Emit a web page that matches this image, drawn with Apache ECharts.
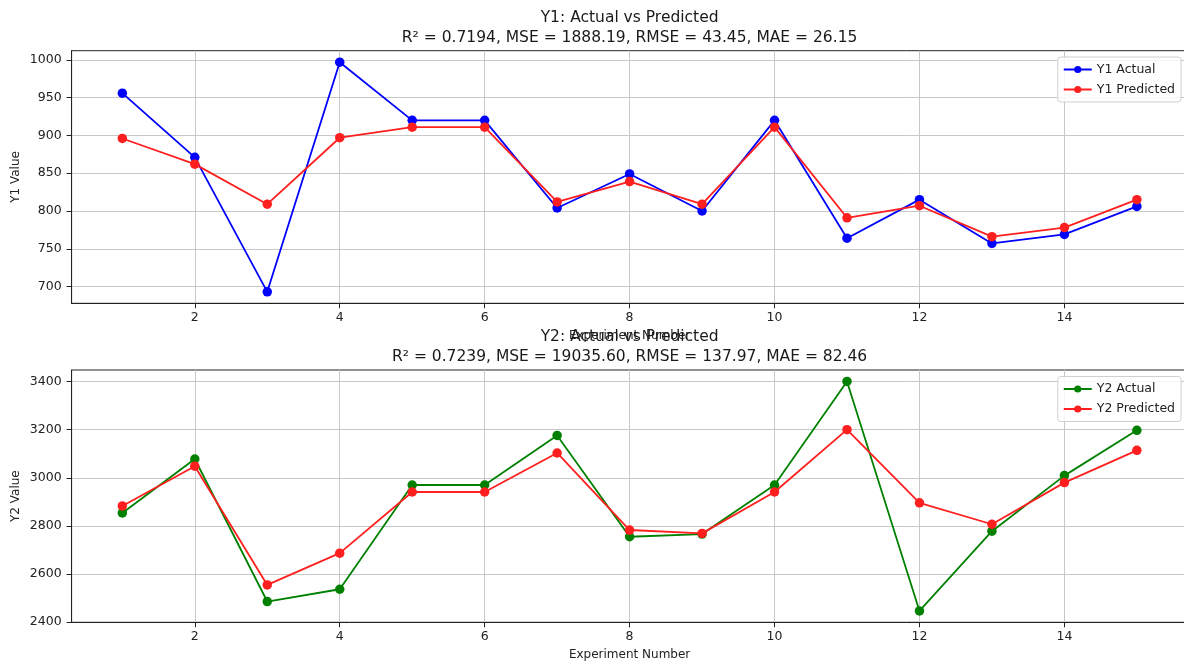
<!DOCTYPE html>
<html>
<head>
<meta charset="utf-8">
<script src="https://cdn.jsdelivr.net/npm/echarts@6/dist/echarts.min.js"></script>
<style>
html,body{margin:0;padding:0;background:#fff;}
#chart{width:1184px;height:664px;}
</style>
</head>
<body>
<div id="chart"></div>
<script>
const experiments = [1,2,3,4,5,6,7,8,9,10,11,12,13,14,15];
const y1Actual    = [956,871,693,997,920,920,804,849,800,920,764,815,757,769,806];
const y1Predicted = [896,862,809,897,911,911,812,839,809,911,791,807,766,778,815];
const y2Actual    = [2854,3078,2486,2537,2970,2970,3176,2755,2766,2970,3400,2447,2778,3009,3197];
const y2Predicted = [2883,3048,2555,2687,2941,2941,3103,2783,2769,2941,3200,2896,2807,2980,3114];
const xTicks  = [2,4,6,8,10,12,14];
const y1Ticks = [700,750,800,850,900,950,1000];
const y2Ticks = [2400,2600,2800,3000,3200,3400];
const title1 = 'Y1: Actual vs Predicted\nR\u00B2 = 0.7194, MSE = 1888.19, RMSE = 43.45, MAE = 26.15';
const title2 = 'Y2: Actual vs Predicted\nR\u00B2 = 0.7239, MSE = 19035.60, RMSE = 137.97, MAE = 82.46';

const FONT = 'DejaVu Sans';
const pair = (xs, ys) => xs.map((x, i) => [x, ys[i]]);
const plain = v => String(v);

function xAxisCfg(gridIndex) {
  return {
    type: 'value', gridIndex, min: 0.3, max: 15.7,
    minInterval: 2, maxInterval: 2,
    name: 'Experiment Number', nameLocation: 'middle', nameGap: 27, nameMoveOverlap: false,
    nameTextStyle: { fontFamily: FONT, fontSize: 12, color: '#222' },
    axisLine: { show: true, onZero: false, lineStyle: { color: '#222', width: 1 } },
    axisTick: { show: true, inside: false, length: 5, customValues: xTicks, lineStyle: { color: '#222' } },
    axisLabel: { customValues: xTicks, formatter: plain, margin: 8, fontFamily: FONT, fontSize: 12.5, color: '#222' },
    splitLine: { show: true, lineStyle: { color: '#c8c8c8', width: 1 } }
  };
}
function yAxisCfg(gridIndex, min, max, step, ticks, name) {
  return {
    type: 'value', gridIndex, min, max, minInterval: step, maxInterval: step,
    name, nameLocation: 'middle', nameGap: 50, nameMoveOverlap: false,
    nameTextStyle: { fontFamily: FONT, fontSize: 12, color: '#222' },
    axisLine: { show: true, onZero: false, lineStyle: { color: '#222', width: 1 } },
    axisTick: { show: true, inside: false, length: 5, customValues: ticks, lineStyle: { color: '#222' } },
    axisLabel: { customValues: ticks, formatter: plain, margin: 10, fontFamily: FONT, fontSize: 12.5, color: '#222' },
    splitLine: { show: true, lineStyle: { color: '#c8c8c8', width: 1 } }
  };
}
function lineSeries(name, data, color, xi) {
  return {
    type: 'line', name, data, xAxisIndex: xi, yAxisIndex: xi,
    symbol: 'circle', symbolSize: 9.5, showSymbol: true,
    lineStyle: { color, width: 1.8 },
    itemStyle: { color },
    emphasis: { disabled: true },
    animation: false, z: 3
  };
}
function legendCfg(top, names) {
  return {
    data: names, orient: 'vertical', right: 3, top,
    itemWidth: 28, itemHeight: 9, itemGap: 7,
    padding: [6, 6, 6, 5],
    backgroundColor: 'rgba(255,255,255,0.85)', borderColor: '#d0d0d0', borderWidth: 1, borderRadius: 3,
    textStyle: { fontFamily: FONT, fontSize: 12.5, color: '#222' }
  };
}
function gridCfg(top, height) {
  return { left: 71.6, top, width: 1116, height, containLabel: false, outerBoundsMode: 'none',
    show: true, borderColor: '#222', borderWidth: 1, backgroundColor: 'transparent' };
}

const chart = echarts.init(document.getElementById('chart'), null, { renderer: 'canvas' });
chart.setOption({
  animation: false,
  backgroundColor: '#ffffff',
  title: [
    { text: title1, left: 629.6, top: 7.5, textAlign: 'center', padding: 0,
      textStyle: { fontFamily: FONT, fontSize: 15.5, fontWeight: 'normal', color: '#1a1a1a', lineHeight: 20 } },
    { text: title2, left: 629.6, top: 326.5, textAlign: 'center', padding: 0,
      textStyle: { fontFamily: FONT, fontSize: 15.5, fontWeight: 'normal', color: '#1a1a1a', lineHeight: 20 } }
  ],
  grid: [gridCfg(50.7, 252.6), gridCfg(370, 252.3)],
  xAxis: [xAxisCfg(0), xAxisCfg(1)],
  yAxis: [
    yAxisCfg(0, 677.8, 1012.2, 50, y1Ticks, 'Y1 Value'),
    yAxisCfg(1, 2399.7, 3447.7, 200, y2Ticks, 'Y2 Value')
  ],
  legend: [
    legendCfg(57, ['Y1 Actual', 'Y1 Predicted']),
    legendCfg(376.5, ['Y2 Actual', 'Y2 Predicted'])
  ],
  series: [
    lineSeries('Y1 Actual', pair(experiments, y1Actual), '#0000ff', 0),
    lineSeries('Y1 Predicted', pair(experiments, y1Predicted), '#ff1f1f', 0),
    lineSeries('Y2 Actual', pair(experiments, y2Actual), '#008000', 1),
    lineSeries('Y2 Predicted', pair(experiments, y2Predicted), '#ff1f1f', 1)
  ]
});
</script>
</body>
</html>
